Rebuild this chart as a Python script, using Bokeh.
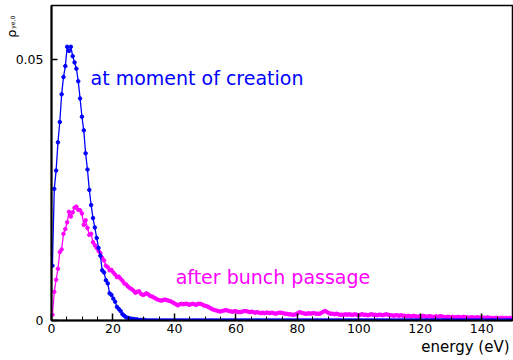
import numpy as np
from bokeh.plotting import figure
from bokeh.models import Range1d, FixedTicker, Label, Title, LinearAxis, ColumnDataSource
from bokeh.embed import file_html
from bokeh.resources import INLINE

# histogram binning (energy axis, eV)
e_min, e_max, n_bins = 0.0, 150.0, 250

# electron energy density at moment of creation (blue)
creation = [
    0.0105, 0.0252, 0.0287, 0.0341, 0.0380, 0.0433, 0.0466, 0.0487, 0.0524, 0.0516,
    0.0524, 0.0506, 0.0494, 0.0482, 0.0458, 0.0425, 0.0390, 0.0364, 0.0320, 0.0289,
    0.0250, 0.0221, 0.0196, 0.0178, 0.0158, 0.0139, 0.0124, 0.0096, 0.0092, 0.0077,
    0.0071, 0.0052, 0.0049, 0.0042, 0.0036, 0.0026, 0.0022, 0.0018, 0.0012, 0.0009,
    0.0006, 0.0005, 0.0004, 0.0003, 0.0003, 0.0002, 0.0002, 0.0001, 0.0001, 0.0001,
    0.0001, 0, 0, 0, 0, 0, 0, 0, 0, 0,
    0, 0, 0, 0, 0, 0, 0, 0, 0, 0,
    0, 0, 0, 0, 0, 0, 0, 0, 0, 0,
    0, 0, 0, 0, 0, 0, 0, 0, 0, 0,
    0, 0, 0, 0, 0, 0, 0, 0, 0, 0,
    0, 0, 0, 0, 0, 0, 0, 0, 0, 0,
    0, 0, 0, 0, 0, 0, 0, 0, 0, 0,
    0, 0, 0, 0, 0, 0, 0, 0, 0, 0,
    0, 0, 0, 0, 0, 0, 0, 0, 0, 0,
    0, 0, 0, 0, 0, 0, 0, 0, 0, 0,
    0, 0, 0, 0, 0, 0, 0, 0, 0, 0,
    0, 0, 0, 0, 0, 0, 0, 0, 0, 0,
    0, 0, 0, 0, 0, 0, 0, 0, 0, 0,
    0, 0, 0, 0, 0, 0, 0, 0, 0, 0,
    0, 0, 0, 0, 0, 0, 0, 0, 0, 0,
    0, 0, 0, 0, 0, 0, 0, 0, 0, 0,
    0, 0, 0, 0, 0, 0, 0, 0, 0, 0,
    0, 0, 0, 0, 0, 0, 0, 0, 0, 0,
    0, 0, 0, 0, 0, 0, 0, 0, 0, 0,
    0, 0, 0, 0, 0, 0, 0, 0, 0, 0,
]

# electron energy density after bunch passage (magenta)
after_bunch = [
    0.0011, 0.0055, 0.0078, 0.0099, 0.0131, 0.0136, 0.0166, 0.0175, 0.0188, 0.0208,
    0.0199, 0.0207, 0.0216, 0.0218, 0.0212, 0.0211, 0.0205, 0.0183, 0.0192, 0.0177,
    0.0164, 0.0166, 0.0150, 0.0144, 0.0139, 0.0133, 0.0129, 0.0120, 0.0115, 0.0105,
    0.0102, 0.0096, 0.0097, 0.0092, 0.0088, 0.0083, 0.0084, 0.0080, 0.0076, 0.0071,
    0.0069, 0.0065, 0.0062, 0.0060, 0.0057, 0.0053, 0.0055, 0.0056, 0.0051, 0.0049,
    0.0050, 0.0052, 0.0050, 0.0047, 0.0046, 0.0044, 0.0042, 0.0040, 0.0039, 0.0038,
    0.0039, 0.0040, 0.0039, 0.0038, 0.0037, 0.0035, 0.0033, 0.0031, 0.0029, 0.0031,
    0.0032, 0.0031, 0.0032, 0.0032, 0.0030, 0.0031, 0.0032, 0.0031, 0.0030, 0.0032,
    0.0032, 0.0031, 0.0029, 0.0028, 0.0027, 0.0025, 0.0023, 0.0021, 0.0020, 0.0019,
    0.0018, 0.0017, 0.0018, 0.0019, 0.0020, 0.0019, 0.0018, 0.0017, 0.0017, 0.0018,
    0.0017, 0.0016, 0.0016, 0.0017, 0.0018, 0.0018, 0.0017, 0.0016, 0.0017, 0.0016,
    0.0015, 0.0016, 0.0015, 0.0014, 0.0015, 0.0014, 0.0015, 0.0015, 0.0014, 0.0015,
    0.0014, 0.0013, 0.0014, 0.0015, 0.0015, 0.0014, 0.0013, 0.0013, 0.0012, 0.0012,
    0.0011, 0.0011, 0.0012, 0.0014, 0.0016, 0.0015, 0.0014, 0.0013, 0.0013, 0.0014,
    0.0013, 0.0014, 0.0014, 0.0013, 0.0013, 0.0013, 0.0015, 0.0017, 0.0018, 0.0016,
    0.0014, 0.0013, 0.0013, 0.0012, 0.0013, 0.0012, 0.0011, 0.0011, 0.0011, 0.0012,
    0.0011, 0.0012, 0.0011, 0.0011, 0.0012, 0.0011, 0.0010, 0.0011, 0.0012, 0.0011,
    0.0011, 0.0010, 0.0011, 0.0012, 0.0011, 0.0011, 0.0010, 0.0011, 0.0011, 0.0010,
    0.0011, 0.0012, 0.0011, 0.0010, 0.0010, 0.0009, 0.0010, 0.0010, 0.0009, 0.0010,
    0.0009, 0.0009, 0.0008, 0.0009, 0.0008, 0.0008, 0.0009, 0.0008, 0.0007, 0.0008,
    0.0008, 0.0009, 0.0008, 0.0007, 0.0008, 0.0008, 0.0007, 0.0007, 0.0008, 0.0007,
    0.0008, 0.0008, 0.0007, 0.0006, 0.0007, 0.0007, 0.0006, 0.0007, 0.0006, 0.0006,
    0.0007, 0.0006, 0.0006, 0.0007, 0.0006, 0.0006, 0.0005, 0.0006, 0.0006, 0.0005,
    0.0006, 0.0006, 0.0005, 0.0006, 0.0005, 0.0005, 0.0006, 0.0005, 0.0005, 0.0004,
    0.0005, 0.0005, 0.0004, 0.0005, 0.0005, 0.0004, 0.0005, 0.0004, 0.0005, 0.0004,
]

x_major = [0, 20, 40, 60, 80, 100, 120, 140]
x_minor = [0, 5, 10, 15, 20, 25, 30, 35, 40, 45, 50, 55, 60, 65, 70, 75, 80, 85, 90,
           95, 100, 105, 110, 115, 120, 125, 130, 135, 140, 145, 150]
y_major = [0, 0.05]
y_labels = {0: "0", 0.05: "0.05"}
y_title = "ρ"
y_title_sub = "ye,0"

edges = np.linspace(e_min, e_max, n_bins + 1)
centers = 0.5 * (edges[:-1] + edges[1:])

BLUE = "#0000ff"
MAGENTA = "#ff00ff"
FONT = "DejaVu Sans"

p = figure(width=513, height=360, output_backend="svg", toolbar_location=None,
           x_range=Range1d(0, 150), y_range=Range1d(0, 0.0603),
           min_border_left=51, min_border_right=1, min_border_top=5,
           min_border_bottom=40)
p.xgrid.visible = False
p.ygrid.visible = False
p.outline_line_color = "black"
p.outline_line_width = 1.5
p.background_fill_color = "white"
p.border_fill_color = "white"

src_m = ColumnDataSource(dict(x=centers, y=after_bunch))
src_b = ColumnDataSource(dict(x=centers, y=creation))
p.line("x", "y", source=src_m, line_color=MAGENTA, line_width=1.3)
p.scatter("x", "y", source=src_m, size=3.5, fill_color=MAGENTA, line_color=MAGENTA)
p.line("x", "y", source=src_b, line_color=BLUE, line_width=1.3)
p.scatter("x", "y", source=src_b, size=3.5, fill_color=BLUE, line_color=BLUE)

xa = p.xaxis[0]
xa.ticker = FixedTicker(ticks=x_major, minor_ticks=x_minor)
xa.major_tick_in = 7
xa.major_tick_out = 0
xa.minor_tick_in = 4
xa.minor_tick_out = 0
xa.axis_line_width = 2
xa.major_tick_line_width = 1.5
xa.major_label_text_font = FONT
xa.major_label_text_font_size = "12.5px"
xa.major_label_text_color = "black"
xa.major_label_standoff = 3

ya = p.yaxis[0]
ya.ticker = FixedTicker(ticks=y_major, minor_ticks=[])
ya.major_label_overrides = y_labels
ya.major_tick_in = 6
ya.major_tick_out = 0
ya.minor_tick_in = 0
ya.minor_tick_out = 0
ya.axis_line_width = 2
ya.major_tick_line_width = 1.5
ya.major_label_text_font = FONT
ya.major_label_text_font_size = "12.5px"
ya.major_label_text_color = "black"
ya.major_label_standoff = 8


def title_axis(text, pos, size, standoff):
    """Invisible extra left axis whose single tick label carries part of the y title."""
    return LinearAxis(
        ticker=FixedTicker(ticks=[pos], minor_ticks=[]),
        major_label_overrides={pos: text},
        major_label_orientation="vertical",
        major_label_standoff=standoff,
        major_label_text_font=FONT, major_label_text_font_size=size,
        major_label_text_color="black",
        axis_line_color=None, major_tick_line_color=None, minor_tick_line_color=None,
        major_tick_in=0, major_tick_out=0, minor_tick_in=0, minor_tick_out=0,
    )


# y title: subscript (nearer the axis) and rho symbol
p.add_layout(title_axis(y_title_sub, 0.0571, "6px", -4), "left")
p.add_layout(title_axis(y_title, 0.0549, "13px", -13), "left")

# x axis title, right aligned below the axis
p.add_layout(Title(text="energy (eV)", align="right", offset=3, standoff=0,
                   text_font=FONT, text_font_size="15px", text_font_style="normal",
                   text_color="black"), "below")

p.add_layout(Label(x=12.7, y=0.0465, text="at moment of creation", text_align="left",
                   text_baseline="alphabetic", text_font=FONT,
                   text_font_size="19px", text_color=BLUE))
p.add_layout(Label(x=40.4, y=0.0083, text="after bunch passage", text_align="left",
                   text_baseline="alphabetic", text_font=FONT,
                   text_font_size="19px", text_color=MAGENTA))

open("out.html", "w").write(file_html(p, INLINE))
